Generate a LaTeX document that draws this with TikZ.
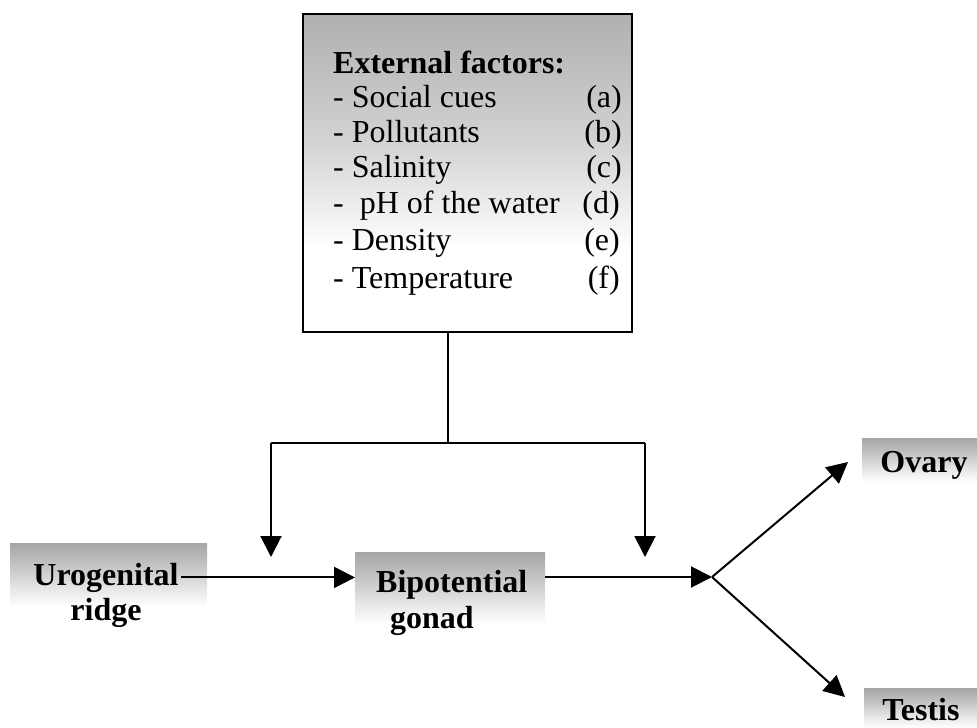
\documentclass[tikz,border=0pt]{standalone}
\usepackage{fontspec}
\setmainfont{Liberation Serif}
\usetikzlibrary{arrows.meta}
\pgfdeclareverticalshading{extshade}{100bp}{color(0bp)=(white); color(25bp)=(white); color(38bp)=(white); color(55bp)=(gray!35); color(75bp)=(gray!62); color(100bp)=(gray!62)}
\pgfdeclareverticalshading{boxshade}{100bp}{color(0bp)=(white); color(25bp)=(white); color(40bp)=(gray!20); color(60bp)=(gray!50); color(75bp)=(gray!70); color(100bp)=(gray!70)}
\begin{document}
\begin{tikzpicture}[x=1pt,y=-1pt,
  gbox/.style={shade, shading=boxshade, draw=none, inner sep=0pt, outer sep=0pt},
  lbl/.style={font=\fontsize{32}{36}\selectfont\bfseries, inner sep=2pt, anchor=base},
  item/.style={font=\fontsize{32}{36}\selectfont, inner sep=0pt, anchor=base west},
  tag/.style={font=\fontsize{32}{36}\selectfont, inner sep=0pt, anchor=base east},
  conn/.style={line width=2pt},
  arr/.style={conn, -{Triangle[length=21pt,width=21pt]}}]
\path[use as bounding box] (0,0) rectangle (977,728);

% external factors box
\node[draw, line width=1.8pt, shade, shading=extshade, minimum width=329pt, minimum height=318pt, inner sep=0pt] (ext) at (467.5,173) {};
\node[item, font=\fontsize{32}{36}\selectfont\bfseries] (h) at (333,73) {External factors:};
\node[item] (i1) at (333,107) {- Social cues};
\node[item] (i2) at (333,142) {- Pollutants};
\node[item] (i3) at (333,177) {- Salinity};
\node[item] (i4) at (333,213) {-\ \ pH of the water};
\node[item] (i5) at (333,250) {- Density};
\node[item] (i6) at (333,288) {- Temperature};
\node[tag] (t1) at (622,107) {(a)};
\node[tag] (t2) at (622,142) {(b)};
\node[tag] (t3) at (622,177) {(c)};
\node[tag] (t4) at (620,213) {(d)};
\node[tag] (t5) at (620,250) {(e)};
\node[tag] (t6) at (620,288) {(f)};

% shaded label boxes
\node[gbox, minimum width=197pt, minimum height=64pt] (uro) at (108.5,575) {};
\node[lbl] (u1) at (106,585) {Urogenital};
\node[lbl] (u2) at (106,620) {ridge};
\node[gbox, minimum width=190pt, minimum height=72pt] (bip) at (450,588) {};
\node[lbl, anchor=base west] (b1) at (374,592) {Bipotential};
\node[lbl, anchor=base west] (b2) at (388,628) {gonad};
\node[gbox, minimum width=115pt, minimum height=44pt] (ov) at (919.5,460) {};
\node[lbl] (ovt) at (924,472) {Ovary};
\node[gbox, minimum width=113pt, minimum height=40pt] (te) at (920.5,708) {};
\node[lbl, inner sep=0pt] (tet) at (921,720) {Testis};

% coordinates
\coordinate (T) at (448,443);
\coordinate (L) at (271,443);
\coordinate (R) at (645,443);
\coordinate (Ld) at (271,557);
\coordinate (Rd) at (645,557);
\coordinate (J) at (712,577);
\coordinate (ovtip) at (848,462);
\coordinate (tetip) at (845,697);

% connectors
\draw[conn] (ext.south -| T) -- (T);
\draw[conn] (L) -- (R);
\draw[arr] (L) -- (Ld);
\draw[arr] (R) -- (Rd);
\draw[arr] (u1.east) -- (u1.east -| bip.west);
\draw[arr] (J -| bip.east) -- (J);
\draw[arr] (J) -- (ovtip);
\draw[arr] (J) -- (tetip);
\end{tikzpicture}
\end{document}
